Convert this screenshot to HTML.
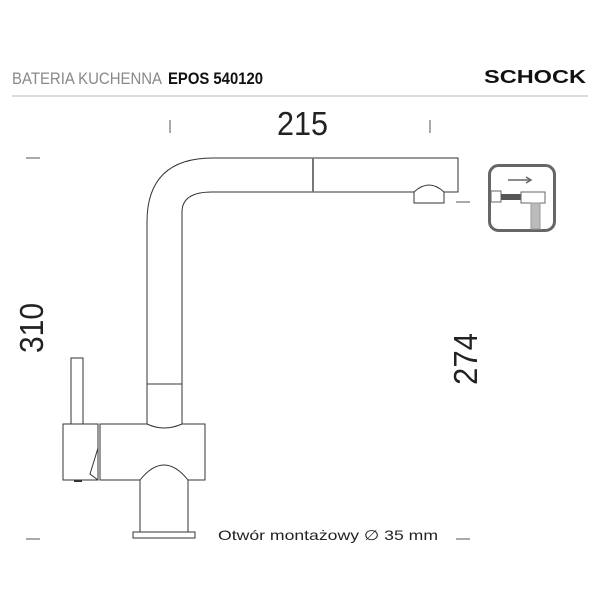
<!DOCTYPE html>
<html><head><meta charset="utf-8"><style>
body{margin:0;background:#fff;width:600px;height:600px;overflow:hidden}
svg{display:block}
</style></head><body>
<svg width="600" height="600" viewBox="0 0 600 600" xmlns="http://www.w3.org/2000/svg" font-family="Liberation Sans, sans-serif">
<text x="12" y="84" font-size="17" fill="#888" textLength="150" lengthAdjust="spacingAndGlyphs">BATERIA KUCHENNA</text>
<text x="168" y="84" font-size="17" font-weight="bold" fill="#111" textLength="95" lengthAdjust="spacingAndGlyphs">EPOS 540120</text>
<text x="484" y="83" font-size="18" font-weight="bold" fill="#111" textLength="102" lengthAdjust="spacingAndGlyphs">SCHOCK</text>
<line x1="12" y1="96" x2="588" y2="96" stroke="#bbb" stroke-width="1"/>
<text x="277" y="135" font-size="33" fill="#222" textLength="51" lengthAdjust="spacingAndGlyphs">215</text>
<g stroke="#555" stroke-width="1">
<line x1="170" y1="120" x2="170" y2="133"/><line x1="430" y1="120" x2="430" y2="133"/>
<line x1="26" y1="158" x2="40" y2="158"/><line x1="26" y1="539" x2="40" y2="539"/>
<line x1="456" y1="202" x2="470" y2="202"/><line x1="456" y1="539" x2="470" y2="539"/>
</g>
<text transform="translate(43,353) rotate(-90)" font-size="33" fill="#222" textLength="50" lengthAdjust="spacingAndGlyphs">310</text>
<text transform="translate(477,385) rotate(-90)" font-size="33" fill="#222" textLength="52" lengthAdjust="spacingAndGlyphs">274</text>
<text x="218" y="540" font-size="14" fill="#222" textLength="220" lengthAdjust="spacingAndGlyphs">Otwór montażowy  ∅ 35 mm</text>
<g fill="none" stroke="#333" stroke-width="1">
<path d="M147,424 V222 Q147,158 213,158 H458 V192 H444"/>
<path d="M182,424 V212 Q182,192 212,192 H414"/>
<line x1="147" y1="384" x2="182" y2="384"/>
<line x1="313" y1="158" x2="313" y2="192" stroke="#777" stroke-width="2"/>
<path d="M414,203 V192 Q429,178 444,192 V203 Z"/>
<path d="M100,424 H147 Q164,432 182,424 H205 V480 H188 Q164,450 140,480 H100 Z"/>
<rect x="63" y="424" width="35" height="56"/>
<path d="M98,424 V448 L90,474 L98,480" />
<rect x="71" y="358" width="12" height="66"/>
<path d="M140,480 V532 M188,480 V532"/>
<rect x="133" y="532" width="62" height="6"/>
<line x1="74" y1="481" x2="82" y2="481" stroke-width="2"/>
</g>
<rect x="489.5" y="165.5" width="65" height="65" rx="9" fill="none" stroke="#666" stroke-width="3"/>
<g stroke="#666" fill="none">
<line x1="508" y1="180" x2="530" y2="180" stroke-width="1.5"/>
<path d="M526,177 L531,180 L526,183" stroke-width="1.5"/>
<rect x="491" y="191" width="10" height="11" fill="#fff"/>
<rect x="501" y="194" width="20" height="6" fill="#555" stroke="none"/>
<rect x="521" y="192" width="24" height="11" fill="#fff"/>
<rect x="531" y="203" width="9" height="26" fill="#bbb" stroke="#999"/>
</g>
</svg>
</body></html>
